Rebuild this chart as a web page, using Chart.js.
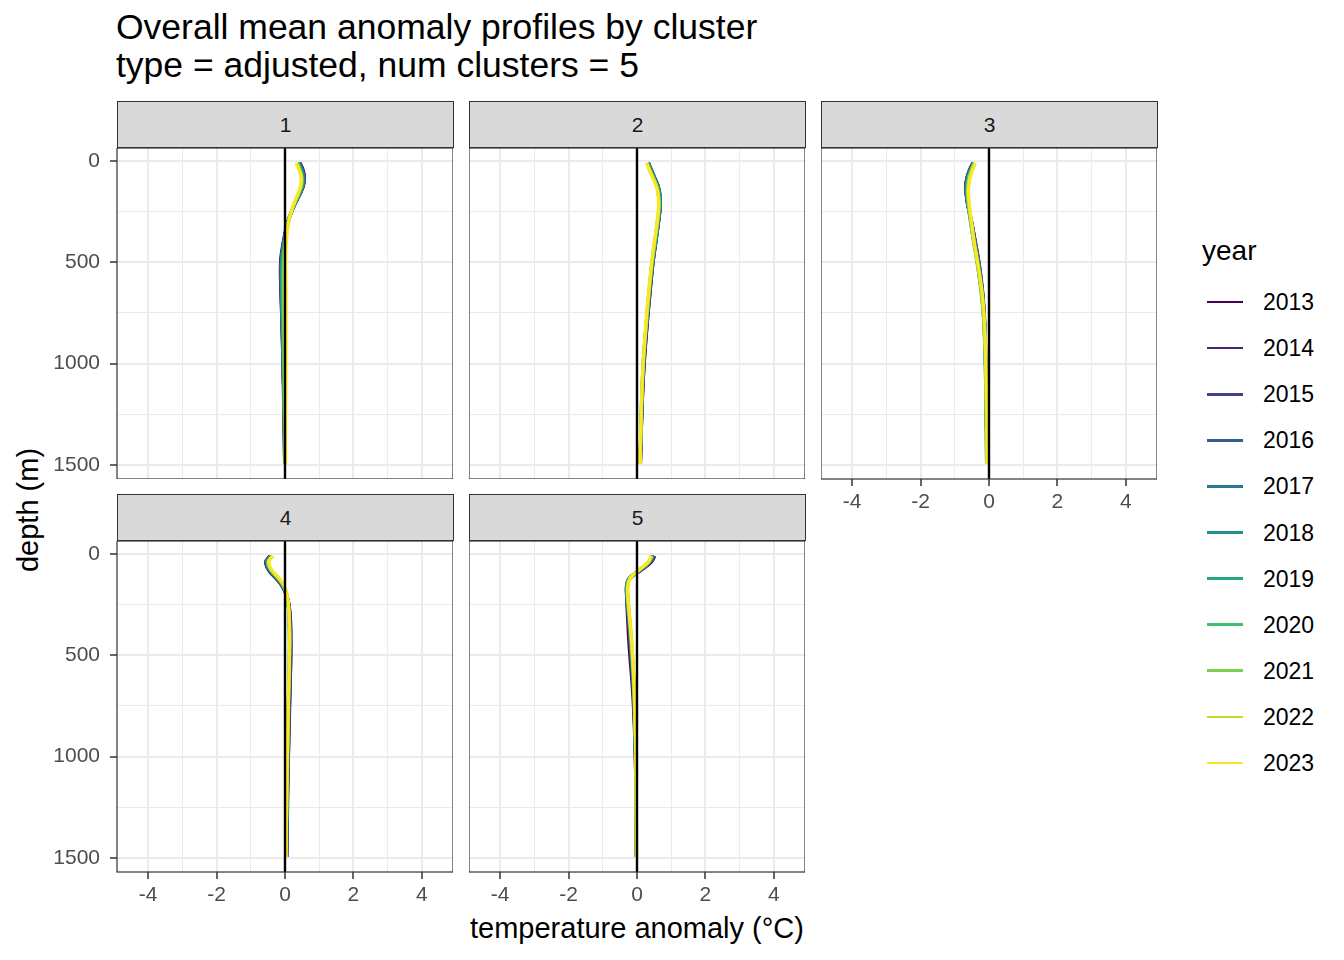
<!DOCTYPE html>
<html>
<head>
<meta charset="utf-8">
<title>Overall mean anomaly profiles by cluster</title>
<script src="https://cdn.jsdelivr.net/npm/chart.js@4.4.0/dist/chart.umd.min.js"></script>
<style>
  body { margin: 0; background: #fff; font-family: "Liberation Sans", Arial, sans-serif; }
  #wrap { position: relative; width: 1344px; height: 960px; overflow: hidden; background: #fff; }
  canvas { position: absolute; }
  .strip {
    position: absolute; background: #d9d9d9; border: 1.2px solid #333; box-sizing: border-box;
    height: 47px; font-size: 21px; color: #1a1a1a; text-align: center; line-height: 45px;
  }
  .t { position: absolute; white-space: nowrap; line-height: 1; color: #000; }
  .c { transform: translate(-50%, -50%); }
  .key { position: absolute; left: 1207px; width: 36px; height: 2.8px; }
  .lab { position: absolute; left: 1263px; font-size: 23px; line-height: 1; transform: translateY(-50%); }
</style>
</head>
<body>
<div id="wrap">
  <div class="t" style="left:116px; top:8px; font-size:35.5px; line-height:38px;">Overall mean anomaly profiles by cluster<br>type = adjusted, num clusters = 5</div>
  <div class="t c" style="left:637px; top:928px; font-size:29px;">temperature anomaly (°C)</div>
  <div class="t" style="left:28px; top:510px; font-size:29px; transform: translate(-50%, -50%) rotate(-90deg);">depth (m)</div>
  <div class="t" style="left:1202px; top:251px; font-size:28px; transform: translateY(-50%);">year</div>
  <div id="legend"></div>
</div>
<script>
// depth levels (m) of each profile
const depths = [10, 40, 80, 120, 160, 220, 300, 400, 500, 650, 800, 1000, 1200, 1495];
const years = ["2013", "2014", "2015", "2016", "2017", "2018", "2019", "2020", "2021", "2022", "2023"];
const yearColors = ["#440154", "#482576", "#414487", "#35608d", "#2a788e", "#21908c",
                    "#22a884", "#43bf71", "#7ad151", "#bbdf27", "#fde725"];

// mean temperature anomaly (°C) per year, one row per year 2013..2023
const cluster1 = [
  [0.44, 0.52, 0.57, 0.54, 0.45, 0.27, 0.08, -0.05, -0.13, -0.12, -0.09, -0.06, -0.04, -0.01],
  [0.43, 0.51, 0.56, 0.54, 0.45, 0.27, 0.08, -0.04, -0.12, -0.11, -0.09, -0.06, -0.03, -0.01],
  [0.42, 0.50, 0.56, 0.53, 0.44, 0.27, 0.09, -0.04, -0.11, -0.11, -0.08, -0.06, -0.03, -0.01],
  [0.41, 0.49, 0.55, 0.53, 0.44, 0.27, 0.09, -0.03, -0.11, -0.10, -0.08, -0.05, -0.03, 0.00],
  [0.40, 0.48, 0.54, 0.52, 0.43, 0.26, 0.09, -0.03, -0.10, -0.10, -0.08, -0.05, -0.03, 0.00],
  [0.39, 0.47, 0.53, 0.51, 0.43, 0.26, 0.09, -0.02, -0.09, -0.09, -0.07, -0.05, -0.03, 0.00],
  [0.37, 0.45, 0.51, 0.50, 0.42, 0.26, 0.10, -0.01, -0.07, -0.08, -0.06, -0.04, -0.02, 0.00],
  [0.36, 0.44, 0.50, 0.49, 0.41, 0.26, 0.10, 0.00, -0.05, -0.06, -0.05, -0.03, -0.02, 0.01],
  [0.35, 0.42, 0.49, 0.48, 0.40, 0.25, 0.10, 0.01, -0.03, -0.04, -0.03, -0.02, -0.01, 0.01],
  [0.34, 0.41, 0.48, 0.47, 0.39, 0.24, 0.10, 0.02, -0.01, -0.01, -0.01, 0.00, 0.00, 0.01],
  [0.32, 0.40, 0.47, 0.46, 0.38, 0.24, 0.11, 0.04, 0.02, 0.03, 0.03, 0.03, 0.02, 0.02]
];
const cluster2 = [
  [0.34, 0.41, 0.51, 0.61, 0.66, 0.68, 0.63, 0.55, 0.47, 0.38, 0.30, 0.21, 0.15, 0.10],
  [0.33, 0.40, 0.50, 0.60, 0.66, 0.68, 0.63, 0.55, 0.47, 0.38, 0.30, 0.21, 0.15, 0.10],
  [0.33, 0.40, 0.50, 0.60, 0.65, 0.67, 0.62, 0.54, 0.46, 0.37, 0.29, 0.20, 0.15, 0.10],
  [0.34, 0.41, 0.51, 0.61, 0.66, 0.68, 0.62, 0.54, 0.46, 0.36, 0.28, 0.19, 0.14, 0.09],
  [0.33, 0.41, 0.51, 0.61, 0.67, 0.68, 0.63, 0.55, 0.46, 0.36, 0.28, 0.19, 0.14, 0.09],
  [0.32, 0.39, 0.49, 0.59, 0.65, 0.67, 0.62, 0.54, 0.45, 0.36, 0.28, 0.19, 0.14, 0.09],
  [0.31, 0.38, 0.48, 0.58, 0.64, 0.66, 0.61, 0.53, 0.45, 0.36, 0.28, 0.19, 0.14, 0.09],
  [0.30, 0.37, 0.47, 0.57, 0.63, 0.65, 0.60, 0.52, 0.44, 0.35, 0.27, 0.18, 0.13, 0.09],
  [0.29, 0.36, 0.46, 0.56, 0.62, 0.64, 0.60, 0.52, 0.44, 0.35, 0.27, 0.18, 0.13, 0.09],
  [0.29, 0.36, 0.46, 0.56, 0.62, 0.64, 0.59, 0.51, 0.43, 0.34, 0.27, 0.18, 0.13, 0.09],
  [0.28, 0.35, 0.45, 0.55, 0.61, 0.63, 0.59, 0.51, 0.43, 0.34, 0.26, 0.18, 0.13, 0.09]
];
const cluster3 = [
  [-0.47, -0.56, -0.64, -0.68, -0.67, -0.62, -0.51, -0.40, -0.30, -0.19, -0.13, -0.10, -0.08, -0.06],
  [-0.47, -0.56, -0.64, -0.68, -0.67, -0.62, -0.51, -0.40, -0.30, -0.19, -0.13, -0.10, -0.08, -0.06],
  [-0.46, -0.55, -0.63, -0.67, -0.66, -0.61, -0.51, -0.41, -0.30, -0.19, -0.13, -0.10, -0.08, -0.06],
  [-0.46, -0.55, -0.63, -0.67, -0.67, -0.61, -0.51, -0.40, -0.29, -0.18, -0.12, -0.09, -0.07, -0.06],
  [-0.45, -0.54, -0.62, -0.66, -0.66, -0.61, -0.52, -0.42, -0.31, -0.20, -0.13, -0.10, -0.08, -0.06],
  [-0.45, -0.53, -0.61, -0.65, -0.65, -0.61, -0.53, -0.43, -0.33, -0.21, -0.14, -0.10, -0.08, -0.07],
  [-0.44, -0.52, -0.60, -0.64, -0.64, -0.61, -0.54, -0.44, -0.34, -0.22, -0.15, -0.11, -0.09, -0.07],
  [-0.43, -0.51, -0.59, -0.63, -0.63, -0.60, -0.54, -0.45, -0.35, -0.23, -0.15, -0.11, -0.09, -0.07],
  [-0.42, -0.49, -0.57, -0.61, -0.62, -0.59, -0.53, -0.45, -0.35, -0.22, -0.15, -0.10, -0.08, -0.06],
  [-0.41, -0.48, -0.56, -0.60, -0.61, -0.58, -0.52, -0.44, -0.34, -0.21, -0.14, -0.10, -0.08, -0.06],
  [-0.40, -0.47, -0.55, -0.59, -0.60, -0.57, -0.51, -0.43, -0.33, -0.20, -0.13, -0.09, -0.07, -0.05]
];
const cluster4 = [
  [-0.44, -0.56, -0.48, -0.27, -0.08, 0.08, 0.15, 0.17, 0.17, 0.15, 0.13, 0.10, 0.08, 0.05],
  [-0.44, -0.56, -0.47, -0.26, -0.08, 0.08, 0.15, 0.17, 0.17, 0.15, 0.12, 0.10, 0.07, 0.05],
  [-0.43, -0.55, -0.46, -0.25, -0.07, 0.07, 0.14, 0.16, 0.16, 0.14, 0.12, 0.09, 0.07, 0.05],
  [-0.42, -0.54, -0.45, -0.24, -0.06, 0.07, 0.13, 0.15, 0.15, 0.13, 0.11, 0.09, 0.06, 0.04],
  [-0.41, -0.53, -0.44, -0.23, -0.06, 0.07, 0.12, 0.14, 0.14, 0.12, 0.10, 0.08, 0.06, 0.04],
  [-0.40, -0.52, -0.43, -0.22, -0.05, 0.07, 0.12, 0.14, 0.14, 0.12, 0.10, 0.08, 0.06, 0.04],
  [-0.39, -0.51, -0.42, -0.21, -0.04, 0.07, 0.12, 0.13, 0.13, 0.11, 0.09, 0.07, 0.05, 0.03],
  [-0.38, -0.50, -0.41, -0.20, -0.04, 0.07, 0.11, 0.13, 0.13, 0.11, 0.09, 0.07, 0.05, 0.03],
  [-0.37, -0.49, -0.40, -0.19, -0.03, 0.07, 0.11, 0.13, 0.13, 0.11, 0.09, 0.07, 0.05, 0.03],
  [-0.36, -0.48, -0.39, -0.18, -0.02, 0.08, 0.12, 0.13, 0.13, 0.11, 0.09, 0.07, 0.05, 0.03],
  [-0.35, -0.47, -0.38, -0.17, -0.01, 0.08, 0.12, 0.14, 0.13, 0.11, 0.09, 0.07, 0.05, 0.03]
];
const cluster5 = [
  [0.52, 0.42, 0.12, -0.20, -0.29, -0.30, -0.28, -0.25, -0.21, -0.14, -0.09, -0.05, -0.03, -0.02],
  [0.50, 0.40, 0.11, -0.21, -0.29, -0.29, -0.26, -0.22, -0.18, -0.12, -0.08, -0.05, -0.03, -0.02],
  [0.49, 0.39, 0.10, -0.22, -0.30, -0.29, -0.25, -0.21, -0.17, -0.11, -0.08, -0.04, -0.03, -0.02],
  [0.48, 0.38, 0.09, -0.23, -0.31, -0.30, -0.25, -0.20, -0.16, -0.11, -0.07, -0.04, -0.03, -0.02],
  [0.47, 0.37, 0.09, -0.23, -0.31, -0.29, -0.25, -0.20, -0.16, -0.10, -0.07, -0.04, -0.03, -0.02],
  [0.46, 0.36, 0.08, -0.22, -0.30, -0.29, -0.24, -0.19, -0.15, -0.10, -0.07, -0.04, -0.03, -0.02],
  [0.45, 0.35, 0.07, -0.22, -0.29, -0.28, -0.24, -0.19, -0.15, -0.10, -0.07, -0.04, -0.03, -0.02],
  [0.44, 0.34, 0.06, -0.21, -0.28, -0.27, -0.23, -0.18, -0.14, -0.09, -0.06, -0.04, -0.03, -0.02],
  [0.43, 0.33, 0.06, -0.21, -0.28, -0.27, -0.23, -0.18, -0.14, -0.09, -0.06, -0.04, -0.03, -0.02],
  [0.42, 0.33, 0.05, -0.20, -0.27, -0.26, -0.22, -0.17, -0.13, -0.09, -0.06, -0.03, -0.02, -0.02],
  [0.42, 0.32, 0.05, -0.20, -0.27, -0.26, -0.22, -0.17, -0.13, -0.08, -0.06, -0.03, -0.02, -0.01]
];

// axis settings (ggplot-style: major + minor grid)
const xTickVals = [-4, -3, -2, -1, 0, 1, 2, 3, 4];
const xMajor = [-4, -2, 0, 2, 4];
const yTickVals = [0, 250, 500, 750, 1000, 1250, 1500];
const yMajor = [0, 500, 1000, 1500];
const X_MIN = -4.91, X_MAX = 4.91;
const Y_MIN = -64, Y_MAX = 1569;

const FONT = '"Liberation Sans", Arial, sans-serif';
const PLOT_W = 336, PLOT_H = 331, Y_AXIS_W = 70, X_AXIS_H = 40;

// vertical zero line and panel border
const panelDecor = {
  id: "panelDecor",
  afterDatasetsDraw(chart) {
    const { ctx, chartArea: a, scales } = chart;
    const x0 = scales.x.getPixelForValue(0);
    ctx.save();
    ctx.strokeStyle = "#000";
    ctx.lineWidth = 2.4;
    ctx.beginPath();
    ctx.moveTo(x0, a.top);
    ctx.lineTo(x0, a.bottom);
    ctx.stroke();
    ctx.strokeStyle = "#333";
    ctx.lineWidth = 1.2;
    ctx.strokeRect(a.left, a.top, a.width, a.height);
    ctx.restore();
  }
};

function makePanel(cluster, left, top, showX, showY) {
  const canvas = document.createElement("canvas");
  const w = PLOT_W + (showY ? Y_AXIS_W : 0);
  const h = PLOT_H + (showX ? X_AXIS_H : 0);
  canvas.width = w;
  canvas.height = h;
  canvas.style.left = (left - (showY ? Y_AXIS_W : 0)) + "px";
  canvas.style.top = top + "px";
  canvas.style.width = w + "px";
  canvas.style.height = h + "px";
  document.getElementById("wrap").appendChild(canvas);

  // later years drawn on top, as in the original
  const datasets = cluster.map((row, i) => ({
    label: years[i],
    data: row.map((v, j) => ({ x: v, y: depths[j] })),
    borderColor: yearColors[i],
    borderWidth: 3.2,
    pointRadius: 0,
    showLine: true,
    tension: 0.4,
    fill: false,
    order: years.length - i
  }));

  new Chart(canvas, {
    type: "scatter",
    data: { datasets: datasets },
    plugins: [panelDecor],
    options: {
      responsive: false,
      animation: false,
      devicePixelRatio: 1,
      layout: { padding: 0 },
      plugins: { legend: { display: false }, tooltip: { enabled: false } },
      scales: {
        x: {
          type: "linear",
          min: X_MIN,
          max: X_MAX,
          afterBuildTicks: (s) => { s.ticks = xTickVals.map((v) => ({ value: v })); },
          afterFit: (s) => {
            s.height = showX ? X_AXIS_H : 0;
            s.paddingLeft = 0; s.paddingRight = 0;
          },
          border: { display: false },
          grid: {
            color: "#ebebeb",
            lineWidth: (c) => (xMajor.includes(c.tick.value) ? 2 : 1),
            drawTicks: showX,
            tickLength: 7,
            tickWidth: 1.5,
            tickColor: (c) => (xMajor.includes(c.tick.value) ? "#333" : "rgba(0,0,0,0)")
          },
          ticks: {
            display: showX,
            autoSkip: false,
            maxRotation: 0,
            padding: 4,
            color: "#4d4d4d",
            font: { size: 21, family: FONT },
            callback: (v) => (xMajor.includes(v) ? String(v) : "")
          }
        },
        y: {
          type: "linear",
          reverse: true,
          min: Y_MIN,
          max: Y_MAX,
          afterBuildTicks: (s) => { s.ticks = yTickVals.map((v) => ({ value: v })); },
          afterFit: (s) => {
            s.width = showY ? Y_AXIS_W : 0;
            s.paddingTop = 0; s.paddingBottom = 0;
          },
          border: { display: false },
          grid: {
            color: "#ebebeb",
            lineWidth: (c) => (yMajor.includes(c.tick.value) ? 2 : 1),
            drawTicks: showY,
            tickLength: 7,
            tickWidth: 1.5,
            tickColor: (c) => (yMajor.includes(c.tick.value) ? "#333" : "rgba(0,0,0,0)")
          },
          ticks: {
            display: showY,
            autoSkip: false,
            padding: 10,
            color: "#4d4d4d",
            font: { size: 21, family: FONT },
            callback: (v) => (yMajor.includes(v) ? String(v) : "")
          }
        }
      }
    }
  });
}

function addStrip(label, left, top) {
  const d = document.createElement("div");
  d.className = "strip";
  d.style.left = left + "px";
  d.style.top = top + "px";
  d.style.width = (PLOT_W + 1) + "px";
  d.textContent = label;
  document.getElementById("wrap").appendChild(d);
}

// panel layout: 3 on the first row, 2 on the second
const panels = [
  { data: cluster1, label: "1", left: 117, top: 148, showX: false, showY: true },
  { data: cluster2, label: "2", left: 469, top: 148, showX: false, showY: false },
  { data: cluster3, label: "3", left: 821, top: 148, showX: true, showY: false },
  { data: cluster4, label: "4", left: 117, top: 541, showX: true, showY: true },
  { data: cluster5, label: "5", left: 469, top: 541, showX: true, showY: false }
];

panels.forEach((p) => {
  addStrip(p.label, p.left, p.top - 47);
  makePanel(p.data, p.left, p.top, p.showX, p.showY);
});

// legend
const legend = document.getElementById("legend");
years.forEach((yr, i) => {
  const cy = 302 + i * 46.1;
  const k = document.createElement("div");
  k.className = "key";
  k.style.top = (cy - 1.4) + "px";
  k.style.background = yearColors[i];
  legend.appendChild(k);
  const l = document.createElement("div");
  l.className = "lab";
  l.style.top = cy + "px";
  l.textContent = yr;
  legend.appendChild(l);
});
</script>
</body>
</html>
